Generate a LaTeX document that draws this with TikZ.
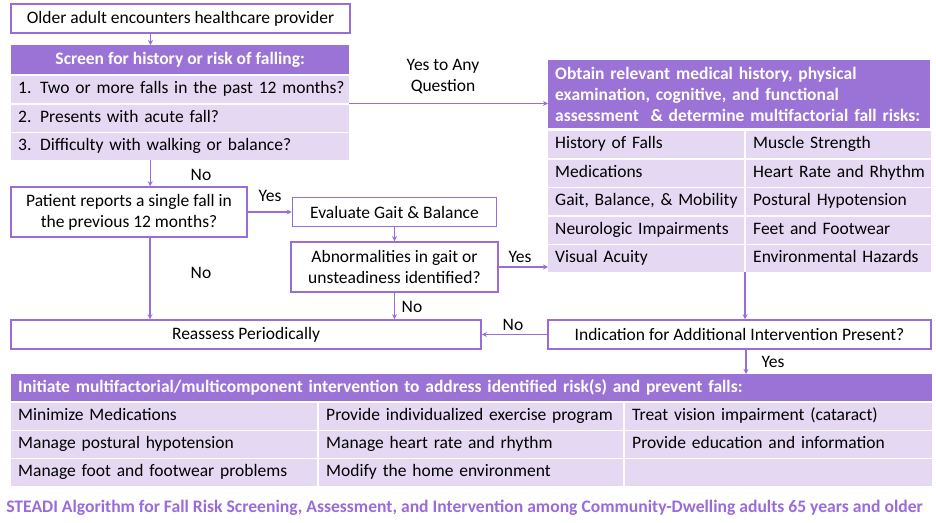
\documentclass[tikz,border=0pt]{standalone}
\usepackage{fontspec}
\setmainfont{Carlito}
\usetikzlibrary{arrows.meta}
\definecolor{lineColor}{RGB}{153,108,218}
\definecolor{headColor}{RGB}{155,114,214}
\definecolor{rowColor}{RGB}{228,216,242}
\tikzset{
  flowbox/.style={draw=lineColor,line width=1.6pt,fill=white,align=center,inner sep=0pt},
  headcell/.style={anchor=north west,fill=headColor,text=white,font=\fontsize{17.5}{21}\selectfont\bfseries,inner xsep=7pt,inner ysep=0pt},
  rowcell/.style={anchor=north west,fill=rowColor,inner xsep=7pt,inner ysep=0pt,minimum height=27pt,text height=12.5pt,text depth=4.5pt,align=left},
  flowarrow/.style={draw=lineColor,line width=1.4pt,-{Stealth[length=5pt,width=5pt]}},
  answer/.style={inner sep=0pt}
}
\begin{document}
\begin{tikzpicture}[x=1pt,y=-1pt,font=\fontsize{17.5}{21}\selectfont]
\useasboundingbox[fill=white] (0,0) rectangle (936,522);

% screening
\node[flowbox,minimum width=339pt,minimum height=29pt] (start) at (180.5,18.5) {Older adult encounters healthcare provider};
\node[headcell,minimum width=338pt,minimum height=29pt] (screenhead) at (11,45) {Screen for history or risk of falling:};
\node[rowcell,text width=324pt] (screena) at (11,76) {\mbox{\makebox[22pt][l]{1.}Two or more falls in the past 12 months?}};
\node[rowcell,text width=324pt] (screenb) at (11,104.5) {\makebox[22pt][l]{2.}Presents with acute fall?};
\node[rowcell,text width=324pt] (screenc) at (11,133) {\makebox[22pt][l]{3.}Difficulty with walking or balance?};

% risk factors
\node[headcell,text width=368pt,minimum height=68pt,align=left] (riskhead) at (548,60) {Obtain relevant medical history, physical\\examination, cognitive, and functional\\assessment \ \& determine multifactorial fall risks:};
\node[rowcell,text width=182pt] (riskla) at (548,131) {History of Falls};
\node[rowcell,text width=171pt] (riskra) at (746,131) {Muscle Strength};
\node[rowcell,text width=182pt] (risklb) at (548,159.5) {Medications};
\node[rowcell,text width=171pt] (riskrb) at (746,159.5) {\mbox{Heart Rate and Rhythm}};
\node[rowcell,text width=182pt] (risklc) at (548,188) {\mbox{Gait, Balance, \& Mobility}};
\node[rowcell,text width=171pt] (riskrc) at (746,188) {Postural Hypotension};
\node[rowcell,text width=182pt] (riskld) at (548,216.5) {\mbox{Neurologic Impairments}};
\node[rowcell,text width=171pt] (riskrd) at (746,216.5) {Feet and Footwear};
\node[rowcell,text width=182pt] (riskle) at (548,245) {Visual Acuity};
\node[rowcell,text width=171pt] (riskre) at (746,245) {\mbox{Environmental Hazards}};

% decisions
\node[flowbox,minimum width=236pt,minimum height=50pt] (patient) at (129,212) {Patient reports a single fall in\\the previous 12 months?};
\node[flowbox,minimum width=204pt,minimum height=29pt] (gait) at (394.5,212) {Evaluate Gait \& Balance};
\node[flowbox,minimum width=207pt,minimum height=50pt] (abnorm) at (394.5,267) {Abnormalities in gait or\\unsteadiness identified?};
\node[flowbox,minimum width=470pt,minimum height=29pt] (reassess) at (246,334.5) {Reassess Periodically};
\node[flowbox,minimum width=383pt,minimum height=29pt] (indication) at (739.5,334.5) {Indication for Additional Intervention Present?};

% intervention
\node[headcell,text width=907pt,minimum height=27pt,align=left] (acthead) at (11,374) {Initiate multifactorial/multicomponent intervention to address identified risk(s) and prevent falls:};
\node[rowcell,text width=292pt] (actla) at (11,403) {Minimize Medications};
\node[rowcell,text width=290pt] (actma) at (319,403) {\mbox{Provide individualized exercise program}};
\node[rowcell,text width=293pt] (actra) at (625,403) {Treat vision impairment (cataract)};
\node[rowcell,text width=292pt] (actlb) at (11,431) {Manage postural hypotension};
\node[rowcell,text width=290pt] (actmb) at (319,431) {Manage heart rate and rhythm};
\node[rowcell,text width=293pt] (actrb) at (625,431) {Provide education and information};
\node[rowcell,text width=292pt] (actlc) at (11,459) {Manage foot and footwear problems};
\node[rowcell,text width=290pt] (actmc) at (319,459) {Modify the home environment};
\node[rowcell,text width=293pt] (actrc) at (625,459) {};

\node[answer,text=lineColor,font=\fontsize{17.6}{21}\selectfont\bfseries] (caption) at (464.5,508) {STEADI Algorithm for Fall Risk Screening, Assessment, and Intervention among Community-Dwelling adults 65 years and older};

% connectors
\draw[flowarrow] ([xshift=-30pt]start.south) -- ([xshift=-30pt]start.south |- screenhead.north);
\draw[flowarrow] (screena.south east) -- (screena.south east -| riskhead.west);
\draw[flowarrow] ([xshift=-30pt]screenc.south) -- ([xshift=-30pt]screenc.south |- patient.north);
\draw[flowarrow] (patient.east) -- (patient.east -| gait.west);
\draw[flowarrow] ([xshift=21pt]patient.south) -- ([xshift=21pt]patient.south |- reassess.north);
\draw[flowarrow] (gait.south) -- (abnorm.north);
\draw[flowarrow] (abnorm.east) -- (abnorm.east -| riskle.west);
\draw[flowarrow] (abnorm.south) -- (abnorm.south |- reassess.north);
\draw[flowarrow] ([xshift=-1pt]riskre.south west) -- ([xshift=-1pt]riskre.south west |- indication.north);
\draw[flowarrow] (indication.west) -- (reassess.east);
\draw[flowarrow] ([xshift=6.5pt]indication.south) -- ([xshift=6.5pt]indication.south |- acthead.north);

% answers
\node[answer,align=center] (yesany) at (443,77) {Yes to Any\\Question};
\node[answer] (noa) at (201,175) {No};
\node[answer] (yesa) at (270,196) {Yes};
\node[answer] (nob) at (201,273) {No};
\node[answer] (yesb) at (520,257) {Yes};
\node[answer] (noc) at (412,307) {No};
\node[answer] (nod) at (513,325) {No};
\node[answer] (yesc) at (773,362) {Yes};
\end{tikzpicture}
\end{document}
